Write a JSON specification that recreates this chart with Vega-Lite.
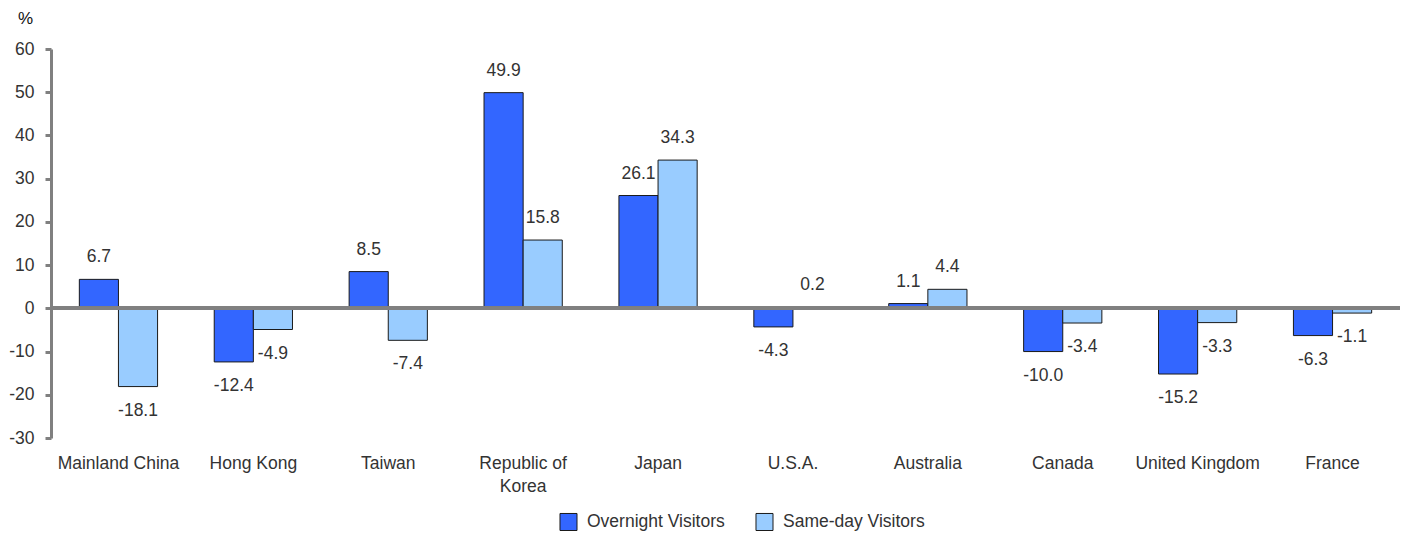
{
  "$schema": "https://vega.github.io/schema/vega-lite/v6.json",
  "width": 1349,
  "height": 389,
  "autosize": "none",
  "padding": {"left": 51, "top": 49, "right": 4, "bottom": 98},
  "background": "white",
  "config": {
    "view": {"stroke": null},
    "font": "Liberation Sans",
    "text": {"font": "Liberation Sans"},
    "locale": {"number": {"decimal": ".", "thousands": ",", "grouping": [3], "currency": ["$", ""], "minus": "-"}}
  },
  "data": {
    "values": [
      {"country": "Mainland China", "series": "Overnight Visitors", "value": 6.7},
      {"country": "Mainland China", "series": "Same-day Visitors", "value": -18.1},
      {"country": "Hong Kong", "series": "Overnight Visitors", "value": -12.4},
      {"country": "Hong Kong", "series": "Same-day Visitors", "value": -4.9},
      {"country": "Taiwan", "series": "Overnight Visitors", "value": 8.5},
      {"country": "Taiwan", "series": "Same-day Visitors", "value": -7.4},
      {"country": "Republic of Korea", "series": "Overnight Visitors", "value": 49.9},
      {"country": "Republic of Korea", "series": "Same-day Visitors", "value": 15.8},
      {"country": "Japan", "series": "Overnight Visitors", "value": 26.1},
      {"country": "Japan", "series": "Same-day Visitors", "value": 34.3},
      {"country": "U.S.A.", "series": "Overnight Visitors", "value": -4.3},
      {"country": "U.S.A.", "series": "Same-day Visitors", "value": 0.2},
      {"country": "Australia", "series": "Overnight Visitors", "value": 1.1},
      {"country": "Australia", "series": "Same-day Visitors", "value": 4.4},
      {"country": "Canada", "series": "Overnight Visitors", "value": -10.0},
      {"country": "Canada", "series": "Same-day Visitors", "value": -3.4},
      {"country": "United Kingdom", "series": "Overnight Visitors", "value": -15.2},
      {"country": "United Kingdom", "series": "Same-day Visitors", "value": -3.3},
      {"country": "France", "series": "Overnight Visitors", "value": -6.3},
      {"country": "France", "series": "Same-day Visitors", "value": -1.1}
    ]
  },
  "encoding": {
    "x": {
      "field": "country",
      "type": "nominal",
      "sort": null,
      "scale": {"paddingInner": 0.42, "paddingOuter": 0.21},
      "axis": {
        "title": null,
        "domain": false,
        "ticks": false,
        "labelAngle": 0,
        "labelPadding": 16,
        "labelFontSize": 17.5,
        "labelColor": "#333333",
        "labelFont": "Liberation Sans",
        "labelLineHeight": 23,
        "labelExpr": "datum.label == 'Republic of Korea' ? ['Republic of', 'Korea'] : datum.label"
      }
    },
    "xOffset": {"field": "series", "type": "nominal", "sort": ["Overnight Visitors", "Same-day Visitors"]},
    "y": {
      "field": "value",
      "type": "quantitative",
      "scale": {"domain": [-30, 60], "nice": false, "zero": false},
      "axis": {
        "values": [-30, -20, -10, 0, 10, 20, 30, 40, 50, 60],
        "grid": false,
        "domainColor": "#808080",
        "domainWidth": 3,
        "tickColor": "#808080",
        "tickWidth": 3,
        "tickSize": 6,
        "labelFontSize": 17.5,
        "labelColor": "#333333",
        "labelFont": "Liberation Sans",
        "labelPadding": 11,
        "labelExpr": "replace(datum.label, '\u2212', '-')",
        "title": "%",
        "titleAngle": 0,
        "titleX": -26,
        "titleY": -31,
        "titleAlign": "center",
        "titleBaseline": "middle",
        "titleFontSize": 17,
        "titleFontWeight": "normal",
        "titleColor": "#111111",
        "titleFont": "Liberation Sans"
      }
    }
  },
  "layer": [
    {
      "mark": {"type": "bar", "stroke": "#1a1a1a", "strokeWidth": 1},
      "encoding": {
        "color": {
          "field": "series",
          "type": "nominal",
          "sort": ["Overnight Visitors", "Same-day Visitors"],
          "scale": {"domain": ["Overnight Visitors", "Same-day Visitors"], "range": ["#3366FF", "#99CCFF"]},
          "legend": {
            "title": null,
            "orient": "none",
            "direction": "horizontal",
            "legendX": 508,
            "legendY": 463,
            "symbolType": "square",
            "symbolSize": 290,
            "symbolStrokeColor": "#1a1a1a",
            "symbolStrokeWidth": 1,
            "labelFontSize": 17.5,
            "labelColor": "#333333",
            "labelFont": "Liberation Sans",
            "columnPadding": 28,
            "labelOffset": 9
          }
        }
      }
    },
    {
      "mark": {"type": "rule", "color": "#808080", "strokeWidth": 3},
      "encoding": {"y": {"datum": 0}, "x": null, "xOffset": null}
    },
    {
      "transform": [{"filter": "datum.value >= 0"}],
      "mark": {"type": "text", "baseline": "middle", "dy": -22, "fontSize": 17.5, "color": "#333333"},
      "encoding": {"text": {"field": "value", "type": "quantitative", "format": ".1f"}}
    },
    {
      "transform": [{"filter": "datum.value < 0"}],
      "mark": {"type": "text", "baseline": "middle", "dy": 24, "fontSize": 17.5, "color": "#333333"},
      "encoding": {"text": {"field": "value", "type": "quantitative", "format": ".1f"}}
    }
  ]
}
